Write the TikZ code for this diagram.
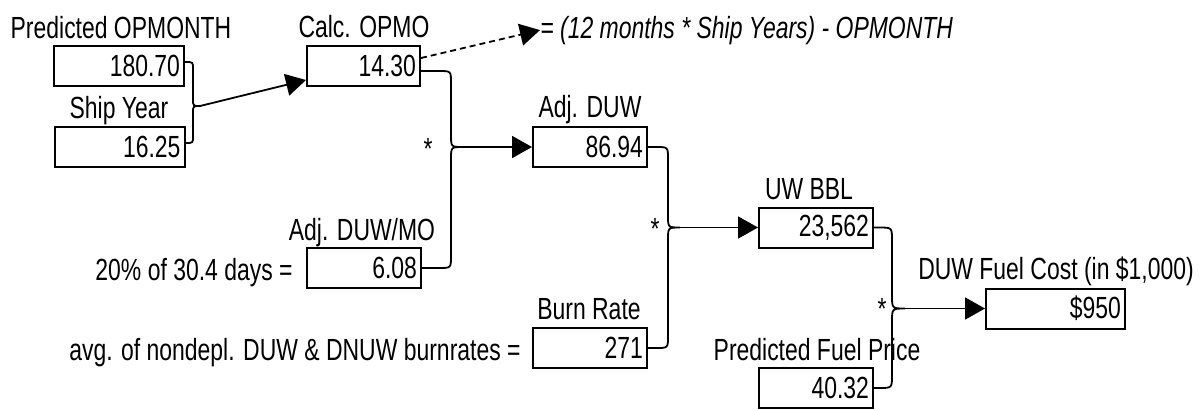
\documentclass[tikz,border=0pt]{standalone}
\usepackage{fontspec}
\setmainfont[FakeStretch=0.75]{Liberation Sans}
\usetikzlibrary{arrows.meta,calc}

\begin{document}
\begin{tikzpicture}[x=0.5pt, y=-0.5pt,
    every node/.style={font=\fontsize{15.3}{18}\selectfont},
    cell/.style={draw, line width=1pt, minimum height=20pt, inner xsep=2pt,
                 inner ysep=0pt, text width=#1, align=right},
    cell/.default=53pt,
    caption/.style={anchor=base, inner sep=0pt},
    link/.style={line width=0.9pt},
    flow/.style={link, -{Triangle[length=10pt, width=11pt]}},
    star/.style={anchor=base, inner sep=0pt}]
  \useasboundingbox (0,0) rectangle (1203,409);
  % value boxes, positions in pixels of the sheet
  \foreach \n/\x/\y/\w/\v in {pom/119/66/61pt/180.70, shy/119.5/147/61pt/16.25,
                              calc/363.5/66/52.5pt/14.30, adjd/590/147/53pt/86.94,
                              adjmo/364/268/53pt/6.08, burn/590/348/53pt/271,
                              uwbbl/816/227.5/53pt/{23,562}, fuel/816/388/53pt/40.32,
                              cost/1055.5/308.5/65.5pt/\$950} {
    \node[cell=\w] (\n) at (\x,\y) {\v};
  }
  % titles over the boxes
  \node[caption] (tpom) at (121,38) {Predicted OPMONTH};
  \node[caption] (tshy) at (119,118) {Ship Year};
  \node[caption] (tcalc) at (364,37) {Calc. OPMO};
  \node[caption] (tadjd) at (590,117) {Adj. DUW};
  \node[caption] (tadjmo) at (362,240) {Adj. DUW/MO};
  \node[caption] (tburn) at (589,319) {Burn Rate};
  \node[caption] (tuwbbl) at (809,199) {UW BBL};
  \node[caption] (tfuel) at (817,360) {Predicted Fuel Price};
  \node[caption] (tcost) at (1056,279) {DUW Fuel Cost (in \$1,000)};
  % how the inputs are set
  \node[caption, anchor=base east] (ladjmo) at (293,280) {20\% of 30.4 days =};
  \node[caption, anchor=base east] (lburn) at (521,360)
    {avg. of nondepl. DUW \& DNUW burnrates =};
  \node[caption, anchor=base west] (note) at (540,38)
    {\itshape = (12 months * Ship Years) - OPMONTH};
  % the multiplications
  \node[star] (s2) at (428,159.5) {*};
  \node[star] (s3) at (655,239.5) {*};
  \node[star] (s4) at (882,319.5) {*};
  % where the lines leave the boxes, and the tips of the braces
  \coordinate (pomr) at ([yshift=2pt]pom.east);
  \coordinate (shyr) at ([yshift=2pt]shy.east);
  \coordinate (calcr) at ([yshift=-2.5pt]calc.east);
  \coordinate (calcd) at ([yshift=4pt]calc.east);
  \coordinate (f1) at (200,106);
  \coordinate (f2) at (463,147);
  \coordinate (f3) at (680,227.5);
  \coordinate (f4) at (905,308.5);
  \foreach \a/\b/\t/\r in {pomr/shyr/f1/7, calcr/adjmo.east/f2/12,
                           adjd.east/burn.east/f3/12, uwbbl.east/fuel.east/f4/13} {
    \draw[link] (\a) -- ($(\t |- \a)+(-2*\r,0)$)
      .. controls ($(\t |- \a)+(-\r,0)$) .. ($(\t |- \a)+(-\r,\r)$)
      -- ($(\t)+(-\r,-\r)$) .. controls ($(\t)+(-\r,0)$) .. (\t)
      .. controls ($(\t)+(-\r,0)$) .. ($(\t)+(-\r,\r)$)
      -- ($(\t |- \b)+(-\r,-\r)$)
      .. controls ($(\t |- \b)+(-\r,0)$) .. ($(\t |- \b)+(-2*\r,0)$) -- (\b);
  }
  \draw[flow] (f1) -- ([yshift=-7pt]calc.west);
  \draw[flow] (f2) -- (f2 -| adjd.west);
  \draw[flow] (f3) -- (f3 -| uwbbl.west);
  \draw[flow] (f4) -- (f4 -| cost.west);
  \draw[flow, dash pattern=on 3pt off 2pt] (calcd) -- (note.west);
\end{tikzpicture}
\end{document}
